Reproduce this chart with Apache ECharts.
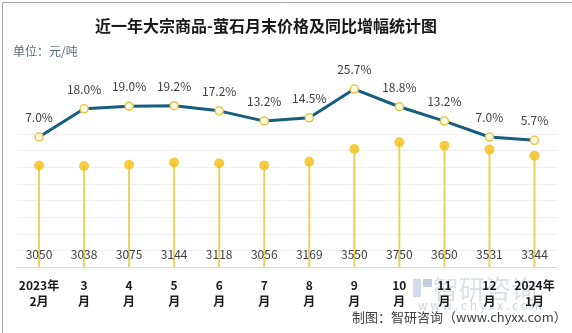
<!DOCTYPE html>
<html>
<head>
<meta charset="utf-8">
<script src="https://cdn.jsdelivr.net/npm/echarts@6/dist/echarts.min.js"></script>
<style>
  html, body { margin: 0; padding: 0; background: #fff; }
  #chart { width: 572px; height: 333px; }
</style>
</head>
<body>
<div id="chart"></div>
<script>
// 月份
const months = ["2023年\n2月", "3\n月", "4\n月", "5\n月", "6\n月", "7\n月", "8\n月", "9\n月", "10\n月", "11\n月", "12\n月", "2024年\n1月"];
// 月末价格（元/吨）
const prices = [3050, 3038, 3075, 3144, 3118, 3056, 3169, 3550, 3750, 3650, 3531, 3344];
// 同比增幅（%）
const growth = [7.0, 18.0, 19.0, 19.2, 17.2, 13.2, 14.5, 25.7, 18.8, 13.2, 7.0, 5.7];

const textFont = "'Noto Sans CJK SC', 'Microsoft YaHei', sans-serif";
const chart = echarts.init(document.getElementById("chart"));

chart.setOption({
  backgroundColor: "#fff",
  animation: false,
  textStyle: { fontFamily: textFont },
  title: {
    text: "近一年大宗商品-萤石月末价格及同比增幅统计图",
    left: 261,
    top: 13,
    textAlign: "center",
    textStyle: { fontSize: 16, fontWeight: "bold", color: "#1a1a1a", fontFamily: textFont }
  },
  graphic: [
    {
      type: "rect", left: 0, top: 0,
      shape: { width: 571, height: 332 },
      style: { fill: "none", stroke: "#a6a6a6", lineWidth: 1 }
    },
    {
      type: "text", left: 13, top: 45,
      style: { text: "单位：元/吨", fill: "#5b6b7b", font: "12px " + textFont }
    },
    // 水印
    {
      type: "rect", left: 413, top: 279,
      shape: { width: 8, height: 18 },
      style: { fill: "#d3dce8" }
    },
    {
      type: "rect", left: 423, top: 279,
      shape: { width: 9, height: 8 },
      style: { fill: "#c3cfdf" }
    },
    {
      type: "text", left: 433, top: 276,
      style: { text: "智研咨询", fill: "rgba(150,165,185,0.35)", font: "26px " + textFont }
    },
    {
      type: "text", left: 418, top: 299,
      style: { text: "w w w . c h y x x . c o m", fill: "rgba(150,165,185,0.45)", font: "12px " + textFont }
    },
    {
      type: "text", left: 352, top: 311,
      style: { text: "制图：智研咨询（www.chyxx.com）", fill: "#404040", font: "13px " + textFont }
    }
  ],
  grid: [
    { left: 16.5, right: 15, top: 78, height: 77 },
    { left: 16.5, right: 15, top: 134, bottom: 66 }
  ],
  xAxis: [
    {
      type: "category", gridIndex: 0, data: months,
      show: false, boundaryGap: true
    },
    {
      type: "category", gridIndex: 1, data: months,
      boundaryGap: true,
      axisLine: { lineStyle: { color: "#d9d9d9" } },
      axisTick: { show: false },
      axisLabel: {
        color: "#1a1a1a", fontWeight: "bold", fontSize: 12,
        lineHeight: 16, margin: 10, interval: 0
      }
    }
  ],
  yAxis: [
    {
      type: "value", gridIndex: 0, min: 0, max: 30, show: false,
      splitLine: { show: false }
    },
    {
      type: "value", gridIndex: 1, min: 0, max: 4000, interval: 500,
      axisLine: { show: false }, axisTick: { show: false },
      axisLabel: { show: false },
      splitLine: { lineStyle: { color: "#f0f0f0" } }
    }
  ],
  series: [
    {
      name: "月末价格",
      type: "bar",
      xAxisIndex: 1, yAxisIndex: 1,
      data: prices,
      barWidth: 2,
      itemStyle: { color: "#ecd15a" },
      label: {
        show: true, position: "insideBottom", distance: 7,
        color: "#404040", fontSize: 12
      },
      z: 2
    },
    {
      name: "价格点",
      type: "scatter",
      xAxisIndex: 1, yAxisIndex: 1,
      data: prices,
      symbolSize: 10,
      itemStyle: { color: "#f2bf15" },
      z: 3
    },
    {
      name: "同比增幅",
      type: "line",
      xAxisIndex: 0, yAxisIndex: 0,
      data: growth,
      symbol: "circle",
      symbolSize: 8,
      lineStyle: { color: "#175e7e", width: 3 },
      itemStyle: { color: "#fffbe6", borderColor: "#e6c64a", borderWidth: 1.5 },
      label: {
        show: true, position: "top", distance: 9,
        color: "#404040", fontSize: 12,
        formatter: p => p.value.toFixed(1) + "%"
      },
      z: 4
    }
  ]
});
</script>
</body>
</html>
